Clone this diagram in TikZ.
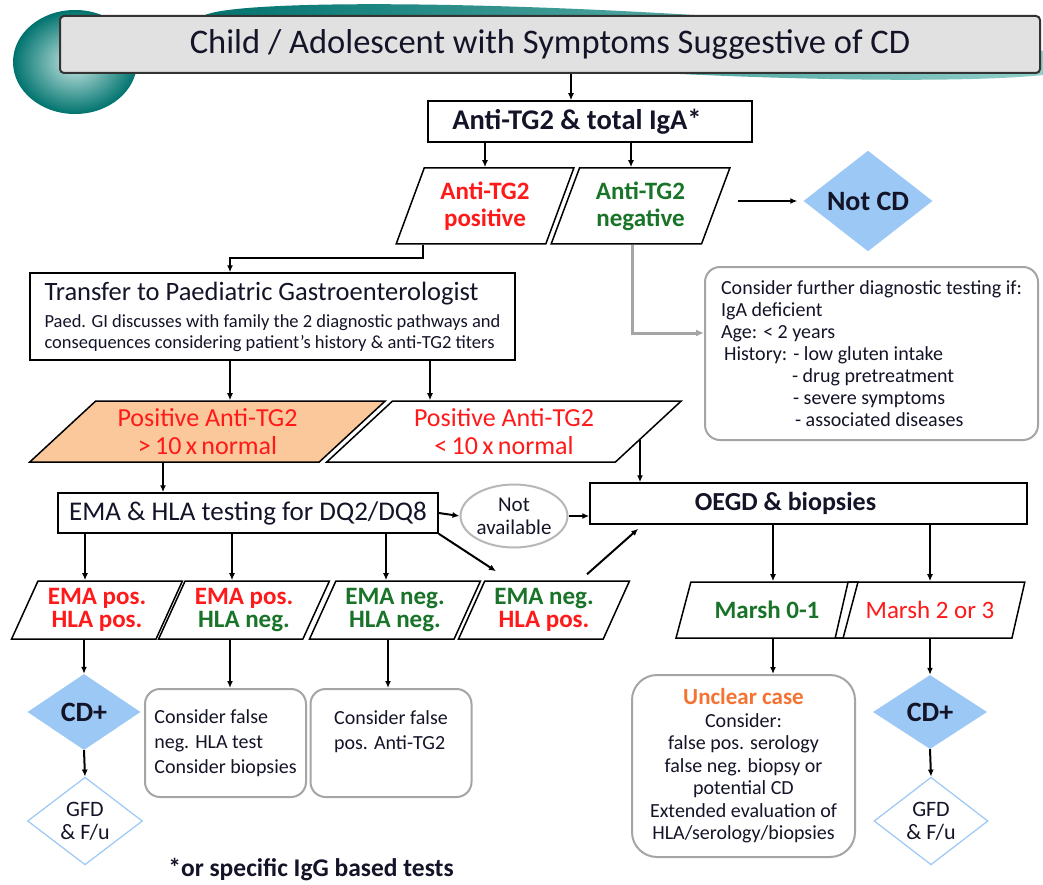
\documentclass[tikz,border=0pt]{standalone}
\usepackage{fontspec}
\setmainfont{Carlito}
\usetikzlibrary{positioning, arrows.meta, shapes.geometric, calc}
\definecolor{inkblue}{RGB}{20,20,40}
\definecolor{posred}{RGB}{255,25,25}
\definecolor{neggreen}{RGB}{25,115,40}
\definecolor{peach}{RGB}{250,200,155}
\definecolor{skyblue}{RGB}{155,200,245}
\definecolor{caseorange}{RGB}{245,115,50}
\definecolor{boxgray}{RGB}{165,165,165}
\definecolor{titlegray}{RGB}{225,225,225}
\definecolor{tealdark}{RGB}{0,115,110}
\definecolor{teallight}{RGB}{150,210,205}

\begin{document}
\begin{tikzpicture}[x=1pt, y=-1pt,
    every node/.style={text=inkblue},
    box/.style={rectangle, draw=black, line width=1.5pt, inner sep=2pt},
    para/.style={trapezium, draw=black, line width=1.5pt, trapezium stretches=true, inner sep=0pt, align=center},
    note/.style={rectangle, rounded corners=15pt, draw=boxgray, line width=2pt},
    dia/.style={diamond, fill=skyblue, inner sep=0pt, font=\fontsize{28}{30}\selectfont\bfseries},
    diaw/.style={diamond, draw=skyblue, line width=1.2pt, fill=white, inner sep=0pt, align=center, font=\fontsize{22}{23}\selectfont},
    arr/.style={-{Latex[length=7pt,width=6pt]}, line width=2pt},
    grayarr/.style={-{Latex[length=8pt,width=7pt]}, line width=3pt, draw=boxgray}
]
    \useasboundingbox (0,0) rectangle (1043,885);
    \fill[white] (0,0) rectangle (1043,885);

    % slide decoration behind the title
    \shade[left color=tealdark, right color=teallight, rotate around={-3:(640,42)}] (640,42) ellipse (440 and 30);
    \shade[inner color=teallight!50!white, outer color=tealdark] (75,62) ellipse (62 and 52);

    \node[box, draw=black!80, line width=2pt, fill=titlegray, rounded corners=4pt, minimum width=980pt, minimum height=57pt, font=\fontsize{34.5}{40}\selectfont] (title) at (550,44.5) {Child / Adolescent with Symptoms Suggestive of CD};

    \node[box, minimum width=324pt, minimum height=41pt, font=\fontsize{28.5}{30}\selectfont\bfseries] (iga) at (590,121.5) {Anti-TG2 \& total IgA*\hspace*{26pt}};

    % first serology result
    \node[para, trapezium left angle=67, trapezium right angle=113, minimum width=178pt, minimum height=76pt, text=posred, font=\fontsize{25}{27}\selectfont\bfseries] (pos) at (485,206) {Anti-TG2\\positive};
    \node[para, trapezium left angle=67, trapezium right angle=113, minimum width=179pt, minimum height=76pt, text=neggreen, font=\fontsize{25}{27}\selectfont\bfseries] (neg) at (640.5,206) {Anti-TG2\\negative};
    \node[dia, minimum width=129pt, minimum height=72pt] (notcd) at (868,201) {Not CD};

    \node[box, minimum width=485pt, minimum height=87pt, align=left, inner sep=0pt, font=\fontsize{18.5}{21}\selectfont] (gastro) at (272.5,316.5) {{\fontsize{26.5}{21}\selectfont Transfer to Paediatric Gastroenterologist}\\[6pt]Paed. GI discusses with family the 2 diagnostic pathways and\\consequences considering patient’s history \& anti-TG2 titers};

    \node[note, minimum width=333pt, minimum height=173pt, align=left, inner sep=0pt, font=\fontsize{20}{22}\selectfont] (further) at (871.5,353.5) {Consider further diagnostic testing if:\\IgA deficient\\Age: < 2 years\\\hspace*{3pt}History: - low gluten intake\\\hspace*{71pt}- drug pretreatment\\\hspace*{72pt}- severe symptoms\\\hspace*{74pt}- associated diseases};

    % titer levels
    \node[para, trapezium left angle=41, trapezium right angle=139, minimum width=357pt, minimum height=61pt, fill=peach, text=posred, font=\fontsize{26}{28}\selectfont] (hi) at (207.5,431.5) {Positive Anti-TG2\\>\,10\,x\,normal};
    \node[para, trapezium left angle=41, trapezium right angle=139, minimum width=356pt, minimum height=61pt, text=posred, font=\fontsize{26}{28}\selectfont] (lo) at (504,431.5) {Positive Anti-TG2\\<\,10\,x\,normal};

    \node[box, minimum width=380pt, minimum height=40pt, font=\fontsize{27}{28}\selectfont] (ema) at (248,513) {EMA \& HLA testing for DQ2/DQ8};
    \node[ellipse, draw=boxgray!80, line width=2pt, minimum width=107pt, minimum height=63pt, inner sep=0pt, align=center, font=\fontsize{21}{23}\selectfont] (na) at (514,516) {Not\\available};
    \node[box, minimum width=437pt, minimum height=41pt, font=\fontsize{26}{28}\selectfont\bfseries] (oegd) at (808.5,503.5) {OEGD \& biopsies\hspace*{46pt}};

    % EMA / HLA combinations
    \node[para, trapezium left angle=63, trapezium right angle=117, minimum width=171pt, minimum height=58pt, font=\fontsize{25}{23}\selectfont\bfseries] (ema1) at (97,610) {\textcolor{posred}{EMA pos.}\\\textcolor{posred}{HLA pos.}};
    \node[para, trapezium left angle=63, trapezium right angle=117, minimum width=171pt, minimum height=58pt, font=\fontsize{25}{23}\selectfont\bfseries] (ema2) at (244,610) {\textcolor{posred}{EMA pos.}\\\textcolor{neggreen}{HLA neg.}};
    \node[para, trapezium left angle=63, trapezium right angle=117, minimum width=171pt, minimum height=58pt, font=\fontsize{25}{23}\selectfont\bfseries] (ema3) at (395,610) {\textcolor{neggreen}{EMA neg.}\\\textcolor{neggreen}{HLA neg.}};
    \node[para, trapezium left angle=63, trapezium right angle=117, minimum width=171pt, minimum height=58pt, font=\fontsize{25}{23}\selectfont\bfseries] (ema4) at (544,610) {\textcolor{neggreen}{EMA neg.}\\\textcolor{posred}{HLA pos.}};

    % histology
    \node[para, trapezium left angle=60, trapezium right angle=120, minimum width=182pt, minimum height=56pt, text=neggreen, font=\fontsize{25}{27}\selectfont\bfseries] (m01) at (767,610) {Marsh 0-1};
    \node[para, trapezium left angle=60, trapezium right angle=120, minimum width=190pt, minimum height=56pt, text=posred, font=\fontsize{25}{27}\selectfont] (m23) at (930,610) {Marsh 2 or 3};

    % outcomes
    \node[dia, minimum width=113pt, minimum height=76pt] (cdl) at (84,712) {CD+};
    \node[diaw, minimum width=115pt, minimum height=76pt] (gfdl) at (85,821) {GFD\\\& F/u};
    \node[note, minimum width=161pt, minimum height=108pt, align=left, font=\fontsize{20}{25}\selectfont] (fneg) at (225.5,743) {Consider false\\neg. HLA test\\Consider biopsies};
    \node[note, minimum width=161pt, minimum height=108pt, align=left, font=\fontsize{20}{25}\selectfont] (fpos) at (391,743) {Consider false\\pos. Anti-TG2\\\mbox{}};
    \node[note, rounded corners=25pt, minimum width=223pt, minimum height=182pt, align=center, font=\fontsize{20}{22.5}\selectfont] (unclear) at (743.5,766) {{\fontsize{23}{22.5}\selectfont\bfseries\textcolor{caseorange}{Unclear case}}\\Consider:\\false pos. serology\\false neg. biopsy or\\potential CD\\Extended evaluation of\\HLA/serology/biopsies};
    \node[dia, minimum width=114pt, minimum height=74pt] (cdr) at (930,712) {CD+};
    \node[diaw, minimum width=114pt, minimum height=76pt] (gfdr) at (931,821) {GFD\\\& F/u};

    \node[font=\fontsize{25.5}{27}\selectfont\bfseries] (foot) at (311,870) {*or specific IgG based tests};

    % connectors
    \coordinate (c-iga) at ([xshift=-19pt]iga.north);
    \coordinate (c-neg) at ([xshift=-9.5pt]neg.north);
    \coordinate (c-nc) at ([xshift=22pt]neg.east);
    \coordinate (c-hi) at ([xshift=-42.5pt]gastro.south);
    \coordinate (c-lo) at ([xshift=157.5pt]gastro.south);
    \coordinate (c-ema) at ([xshift=-44.5pt]hi.south);
    \coordinate (lo-r) at ($(lo.top right corner)!0.64!(lo.bottom right corner)$);
    \coordinate (c-e1) at ([xshift=-12pt]ema1.north);
    \coordinate (c-e2) at ([xshift=-12pt]ema2.north);
    \coordinate (c-e3) at ([xshift=-9pt]ema3.north);
    \coordinate (c-m01) at ([xshift=6pt]m01.north);
    \coordinate (c-fneg) at ([xshift=-14pt]ema2.south);
    \coordinate (c-fpos) at ([xshift=-7pt]ema3.south);
    \coordinate (c-unc) at ([xshift=6pt]m01.south);

    \draw[arr] (c-iga |- title.south) -- (c-iga);
    \draw[arr] (pos.north |- iga.south) -- (pos.north);
    \draw[arr] (c-neg |- iga.south) -- (c-neg);
    \draw[arr] (c-nc |- notcd.west) -- ([xshift=-6pt]notcd.west);
    \draw[arr] ([xshift=-62pt]pos.south) -- ++(0,13) -| ([xshift=-42.5pt]gastro.north);
    \draw[grayarr] ([xshift=-8.5pt]neg.south) |- ([yshift=20.5pt]further.west);
    \draw[arr] (c-hi) -- (c-hi |- hi.north);
    \draw[arr] (c-lo) -- (c-lo |- lo.north);
    \draw[arr] (c-ema) -- (c-ema |- ema.north);
    \draw[arr] (lo-r) -- (lo-r |- oegd.north);
    \draw[arr] (ema.east) -- (na.west);
    \draw[arr] (na.east) -- (na.east -| oegd.west);
    \draw[arr] (c-e1 |- ema.south) -- (c-e1);
    \draw[arr] (c-e2 |- ema.south) -- (c-e2);
    \draw[arr] (c-e3 |- ema.south) -- (c-e3);
    \draw[arr] (ema.south east) -- ([xshift=-48pt,yshift=9pt]ema4.north);
    \draw[arr] ([xshift=43pt,yshift=6pt]ema4.north) -- ([xshift=49pt,yshift=-4pt]oegd.south west);
    \draw[arr] (c-m01 |- oegd.south) -- (c-m01);
    \draw[arr] (m23.north |- oegd.south) -- (m23.north);
    \draw[arr] (cdl.north |- ema1.south) -- (cdl.north);
    \draw[arr] (cdl.south) -- (gfdl.north);
    \draw[arr] (c-fneg) -- (c-fneg |- fneg.north);
    \draw[arr] (c-fpos) -- (c-fpos |- fpos.north);
    \draw[arr] (c-unc) -- (c-unc |- unclear.north);
    \draw[arr] (cdr.north |- m23.south) -- (cdr.north);
    \draw[arr] (cdr.south) -- (gfdr.north);
\end{tikzpicture}
\end{document}
